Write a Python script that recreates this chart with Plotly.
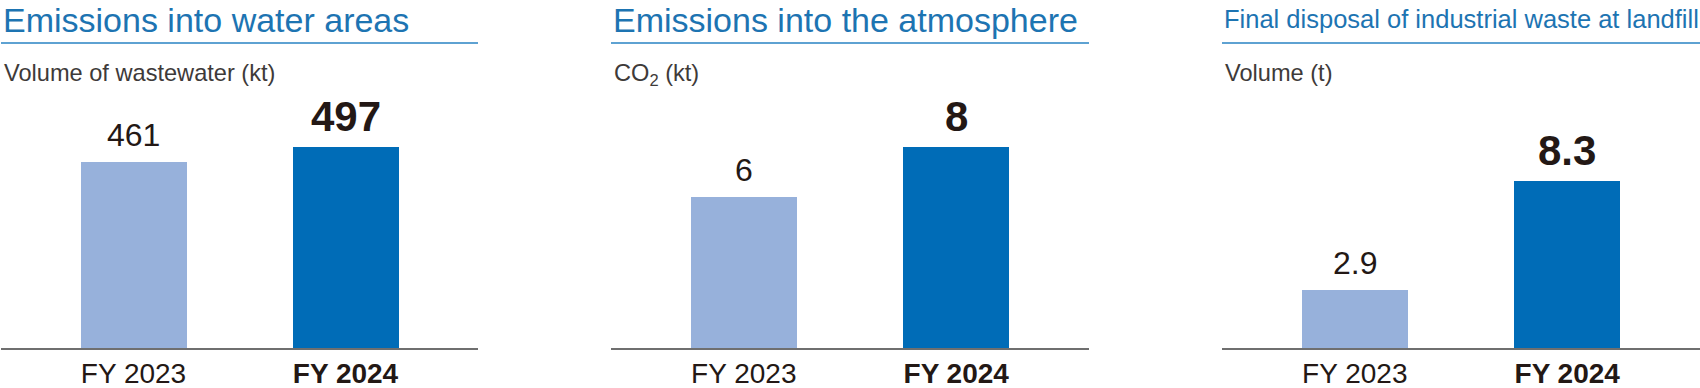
import plotly.graph_objects as go

# ---- data ----
categories = ["FY 2023", "FY 2024"]
tick_labels = ["FY 2023", "<b>FY 2024</b>"]
water_values = [461, 497]
co2_values = [6, 8]
landfill_values = [2.9, 8.3]
titles = ["Emissions into water areas",
          "Emissions into the atmosphere",
          "Final disposal of industrial waste at landfill"]
subtitles = ["Volume of wastewater (kt)", "CO<sub>2</sub> (kt)", "Volume (t)"]
label_formats = ["{:.0f}", "{:.0f}", "{:.1f}"]

# ---- style ----
W, H = 1700, 388
bar_colors = ["#97b1db", "#006cb7"]
title_color = "#1d74b2"
rule_color = "#5ea2d2"
text_color = "#231815"
sub_color = "#3e3a39"
axis_color = "#6f6f6f"
FONT = "Liberation Sans, Arial, Helvetica, sans-serif"

panel_px = [(1, 478), (611, 1089), (1222, 1700)]
plot_top_px, plot_bottom_px = 100, 348
y_tops = [614, 9.86, 12.34]
title_sizes = [34, 34, 25.5]
title_top_px = [0, 0, 3.5]

series = [water_values, co2_values, landfill_values]

fig = go.Figure()
annotations = []
shapes = []

def px_x(p):
    return p / W

def px_y(p):
    return 1 - p / H

for i, vals in enumerate(series):
    n = "" if i == 0 else str(i + 1)
    xa, ya = "x" + n, "y" + n
    fig.add_trace(go.Bar(
        x=categories, y=vals, width=0.5,
        marker=dict(color=bar_colors, line=dict(width=0)),
        xaxis=xa, yaxis=ya, hoverinfo="skip", showlegend=False,
    ))
    x0, x1 = panel_px[i]
    fig.update_layout(**{
        "xaxis" + n: dict(
            domain=[px_x(x0), px_x(x1)], range=[-0.625, 1.625],
            anchor=ya, showgrid=False, zeroline=False, automargin=False,
            showline=True, linecolor=axis_color, linewidth=1.5,
            tickmode="array", tickvals=categories, ticktext=tick_labels,
            ticks="outside", ticklen=0, tickcolor="rgba(0,0,0,0)",
            tickfont=dict(size=28, color=text_color, family=FONT),
            fixedrange=True,
        ),
        "yaxis" + n: dict(
            domain=[px_y(plot_bottom_px), px_y(plot_top_px)],
            range=[0, y_tops[i]], anchor=xa, visible=False, fixedrange=True,
            automargin=False,
        ),
    })
    # value labels above bars
    for j, (c, v) in enumerate(zip(categories, vals)):
        bold = j == 1
        annotations.append(dict(
            x=c, y=v, xref=xa, yref=ya, xanchor="center", yanchor="bottom",
            text=("<b>%s</b>" if bold else "%s") % label_formats[i].format(v),
            showarrow=False, yshift=5 if bold else 7,
            font=dict(size=42 if bold else 32, color=text_color, family=FONT),
        ))
    # panel title
    annotations.append(dict(
        x=px_x(x0 + 1), y=px_y(title_top_px[i]), xref="paper", yref="paper",
        xanchor="left", yanchor="top", showarrow=False, text=titles[i],
        borderpad=0,
        font=dict(size=title_sizes[i], color=title_color, family=FONT),
    ))
    # unit subtitle
    annotations.append(dict(
        x=px_x(x0 + 1), y=px_y(58), xref="paper", yref="paper",
        xanchor="left", yanchor="top", showarrow=False, text=subtitles[i],
        font=dict(size=23.6, color=sub_color, family=FONT),
    ))
    # rule under title
    shapes.append(dict(
        type="line", xref="paper", yref="paper",
        x0=px_x(x0), x1=px_x(x1), y0=px_y(43), y1=px_y(43),
        line=dict(color=rule_color, width=2),
    ))

fig.update_layout(
    width=W, height=H, margin=dict(l=0, r=0, t=0, b=0, pad=0, autoexpand=False),
    paper_bgcolor="white", plot_bgcolor="white", showlegend=False,
    annotations=annotations, shapes=shapes, bargap=0,
    font=dict(family=FONT, color=text_color),
)

fig.write_html(
    "out.html",
    config={"displayModeBar": False},
    post_script="document.body.style.margin='0';document.body.style.overflow='hidden';",
)
